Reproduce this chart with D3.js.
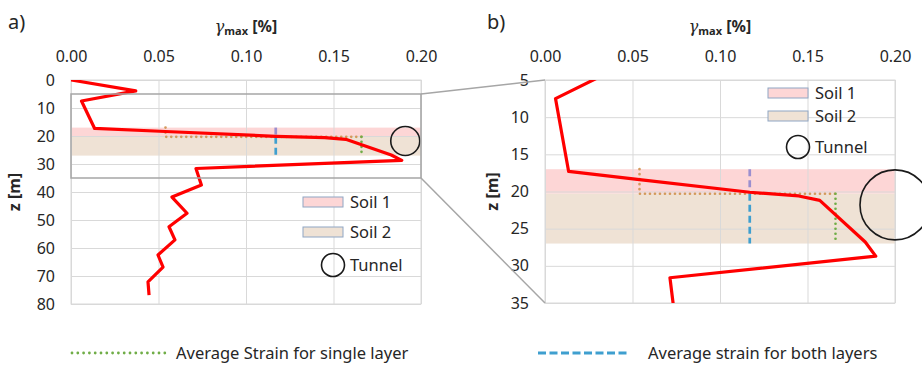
<!DOCTYPE html>
<html>
<head>
<meta charset="utf-8">
<script src="https://cdn.jsdelivr.net/npm/d3@7"></script>
<style>
  body { margin: 0; background: #fff; }
  text { font-family: "Noto Sans", "Open Sans", sans-serif; fill: #262626; }
</style>
</head>
<body>
<div id="chart"></div>
<script>
// strain profile (gamma max [%]) against depth z [m]
const strain = [0.000, 0.037, 0.006, 0.0135, 0.054, 0.117, 0.145, 0.157, 0.183, 0.189, 0.0714, 0.0745, 0.0577, 0.0663, 0.056, 0.0594, 0.0497, 0.0526, 0.044, 0.0446];
const depth  = [0,     3.9,   7.5,   17.3,   18.4,  20.1,  20.6,  21.2,  26.8,  28.7,  31.6,   37.5,   41.8,   47.6,   52.4,  57.1,   62.5,   66.8,   72.1,  76.8];

const soilNames  = ["Soil 1", "Soil 2"];
const soilTop    = [17, 20.3];
const soilBottom = [20.3, 27];

const singleAvg = [0.054, 0.166];   // average strain per layer
const bothAvg = 0.117;              // average strain over both layers

const tunnelZ = 21.8;
const tunnelX = [0.191, 0.2];       // per panel

const xTicks = [0, 0.05, 0.10, 0.15, 0.20];
const zTicksA = [0, 10, 20, 30, 40, 50, 60, 70, 80];
const zTicksB = [5, 10, 15, 20, 25, 30, 35];
const zoomRange = [5, 35];

const W = 922, H = 366;
const svg = d3.select("#chart").append("svg")
  .attr("width", W).attr("height", H);

const soilFill = ["#fdd6d6", "#efe2d5"];
const singleColor = ["#d39a5c", "#70ad47"];
const bothColor = ["#9b8fcf", "#3f9fcf"];

function drawPanel(p) {
  const x = d3.scaleLinear().domain([0, 0.2]).range([p.left, p.right]);
  const z = d3.scaleLinear().domain(p.zDomain).range([p.top, p.bottom]);
  const g = svg.append("g");

  const clipId = "clip" + p.id;
  svg.append("clipPath").attr("id", clipId)
    .append("rect")
    .attr("x", p.left).attr("y", p.top)
    .attr("width", p.right - p.left).attr("height", p.bottom - p.top);

  // soil bands
  g.selectAll(".band").data(soilNames).enter().append("rect")
    .attr("x", x(0))
    .attr("width", x(0.2) - x(0))
    .attr("y", (d, i) => z(soilTop[i]))
    .attr("height", (d, i) => z(soilBottom[i]) - z(soilTop[i]))
    .attr("fill", (d, i) => soilFill[i]);

  // grid
  g.append("g")
    .attr("transform", `translate(0,${p.top})`)
    .call(d3.axisTop(x).tickValues(xTicks).tickSize(-(p.bottom - p.top)).tickFormat(""))
    .call(a => a.select(".domain").remove())
    .call(a => a.selectAll("line").attr("stroke", "#d9d9d9"));
  g.append("g")
    .attr("transform", `translate(${p.left},0)`)
    .call(d3.axisLeft(z).tickValues(p.zTicks).tickSize(-(p.right - p.left)).tickFormat(""))
    .call(a => a.select(".domain").remove())
    .call(a => a.selectAll("line").attr("stroke", "#d9d9d9"));

  // tick labels
  g.append("g")
    .attr("transform", `translate(0,${p.top})`)
    .call(d3.axisTop(x).tickValues(xTicks).tickSize(0).tickPadding(18).tickFormat(d3.format(".2f")))
    .call(a => a.select(".domain").remove())
    .call(a => a.selectAll("text").attr("font-size", 16).attr("fill", "#333"));
  g.append("g")
    .attr("transform", `translate(${p.left},0)`)
    .call(d3.axisLeft(z).tickValues(p.zTicks).tickSize(0).tickPadding(16))
    .call(a => a.select(".domain").remove())
    .call(a => a.selectAll("text").attr("font-size", 16).attr("fill", "#333"));

  g.append("rect")
    .attr("x", p.left).attr("y", p.top)
    .attr("width", p.right - p.left).attr("height", p.bottom - p.top)
    .attr("fill", "none").attr("stroke", "#d9d9d9");

  // average strain lines
  const ln = d3.line().x(d => x(d[0])).y(d => z(d[1]));
  g.append("path")
    .attr("d", ln([[singleAvg[0], soilTop[0]], [singleAvg[0], soilBottom[0]], [singleAvg[1], soilBottom[0]]]))
    .attr("fill", "none").attr("stroke", singleColor[0]).attr("stroke-width", 2.7)
    .attr("stroke-linecap", "round").attr("stroke-dasharray", "0,5");
  g.append("path")
    .attr("d", ln([[singleAvg[1], soilTop[1]], [singleAvg[1], soilBottom[1]]]))
    .attr("fill", "none").attr("stroke", singleColor[1]).attr("stroke-width", 2.7)
    .attr("stroke-linecap", "round").attr("stroke-dasharray", "0,5");
  soilNames.forEach((s, i) => {
    g.append("path")
      .attr("d", ln([[bothAvg, soilTop[i]], [bothAvg, soilBottom[i]]]))
      .attr("fill", "none").attr("stroke", bothColor[i]).attr("stroke-width", 2.7)
      .attr("stroke-dasharray", "7,4");
  });

  // strain profile
  const profile = strain.map((s, i) => [s, depth[i]]);
  g.append("path")
    .attr("clip-path", `url(#${clipId})`)
    .attr("d", ln(profile))
    .attr("fill", "none").attr("stroke", "#ff0000")
    .attr("stroke-width", 3.2).attr("stroke-linejoin", "round");

  // tunnel
  g.append("circle")
    .attr("cx", x(tunnelX[p.id])).attr("cy", z(tunnelZ)).attr("r", p.tunnelR)
    .attr("fill", "none").attr("stroke", "#1a1a1a").attr("stroke-width", 1.6);

  // titles
  const t = g.append("text")
    .attr("x", (p.left + p.right) / 2).attr("y", 32)
    .attr("text-anchor", "middle").attr("font-size", 16).attr("font-weight", "bold");
  t.append("tspan").text("γ").attr("font-style", "italic").attr("font-family", "DejaVu Serif").attr("font-weight", "normal");
  t.append("tspan").text("max").attr("font-size", 11).attr("dy", 3);
  t.append("tspan").text(" [%]").attr("dy", -3);

  g.append("text")
    .attr("transform", `translate(${p.zLabelX},${(p.top + p.bottom) / 2}) rotate(-90)`)
    .attr("text-anchor", "middle").attr("font-size", 16).attr("font-weight", "bold")
    .text("z [m]");

  g.append("text")
    .attr("x", p.letterX).attr("y", 29)
    .attr("font-family", "Liberation Serif").attr("font-size", 20)
    .text(p.letter);

  // legend
  soilNames.forEach((s, i) => {
    g.append("rect")
      .attr("x", p.legX).attr("y", p.legY[i] - 5)
      .attr("width", 40).attr("height", 10)
      .attr("fill", soilFill[i]).attr("stroke", "#8fa6c4").attr("stroke-width", 1);
    g.append("text")
      .attr("x", p.legX + 47).attr("y", p.legY[i]).attr("dy", "0.35em")
      .attr("font-size", 16.5).text(s);
  });
  g.append("circle")
    .attr("cx", p.legX + 30).attr("cy", p.legY[2]).attr("r", 11.5)
    .attr("fill", "none").attr("stroke", "#1a1a1a").attr("stroke-width", 1.6);
  g.append("text")
    .attr("x", p.legX + 47).attr("y", p.legY[2]).attr("dy", "0.35em")
    .attr("font-size", 16.5).text("Tunnel");

  return { x, z };
}

const a = drawPanel({
  id: 0, left: 71, right: 421, top: 80, bottom: 304,
  zDomain: [0, 80], zTicks: zTicksA, tunnelR: 14.5,
  zLabelX: 20, letterX: 8, letter: "a)",
  legX: 303, legY: [202, 232, 265]
});
const b = drawPanel({
  id: 1, left: 545, right: 895, top: 80, bottom: 303,
  zDomain: [5, 35], zTicks: zTicksB, tunnelR: 35,
  zLabelX: 498, letterX: 487, letter: "b)",
  legX: 768, legY: [93, 116, 147]
});

// zoom box and connectors
const zoomTop = a.z(zoomRange[0]), zoomBottom = a.z(zoomRange[1]);
svg.append("rect")
  .attr("x", a.x(0)).attr("y", zoomTop)
  .attr("width", a.x(0.2) - a.x(0)).attr("height", zoomBottom - zoomTop)
  .attr("fill", "none").attr("stroke", "#a6a6a6").attr("stroke-width", 1.5);
svg.append("line")
  .attr("x1", a.x(0.2)).attr("y1", zoomTop)
  .attr("x2", b.x(0)).attr("y2", b.z(zoomRange[0]))
  .attr("stroke", "#a6a6a6").attr("stroke-width", 1.5);
svg.append("line")
  .attr("x1", a.x(0.2)).attr("y1", zoomBottom)
  .attr("x2", b.x(0)).attr("y2", b.z(zoomRange[1]))
  .attr("stroke", "#a6a6a6").attr("stroke-width", 1.5);

// bottom legend
const legBottom = svg.append("g");
legBottom.append("line")
  .attr("x1", 72).attr("x2", 165).attr("y1", 353).attr("y2", 353)
  .attr("stroke", singleColor[1]).attr("stroke-width", 2.8)
  .attr("stroke-linecap", "round").attr("stroke-dasharray", "0,5.8");
legBottom.append("text")
  .attr("x", 176).attr("y", 353).attr("dy", "0.35em")
  .attr("font-size", 16.5).text("Average Strain for single layer");
legBottom.append("line")
  .attr("x1", 538).attr("x2", 630).attr("y1", 353).attr("y2", 353)
  .attr("stroke", bothColor[1]).attr("stroke-width", 3)
  .attr("stroke-dasharray", "8,3.5");
legBottom.append("text")
  .attr("x", 648).attr("y", 353).attr("dy", "0.35em")
  .attr("font-size", 16.5).text("Average strain for both layers");
</script>
</body>
</html>
